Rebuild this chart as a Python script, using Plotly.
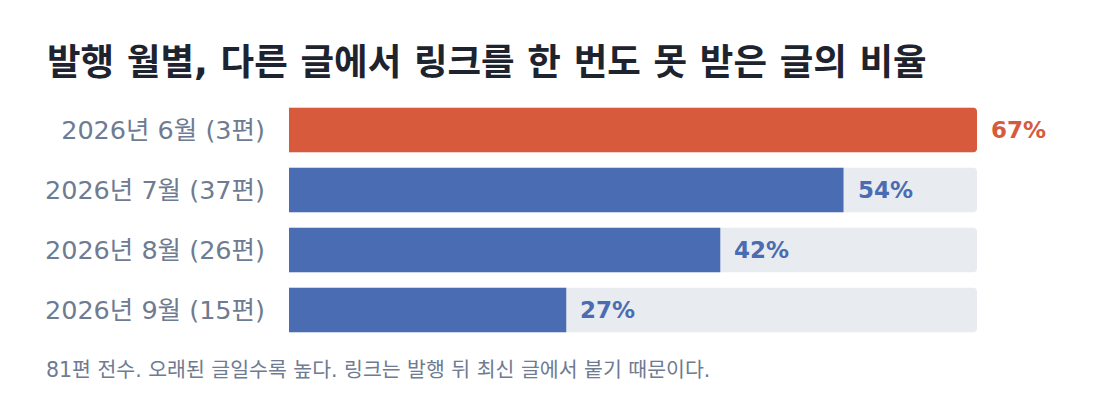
import plotly.graph_objects as go

# Chart data
months = ["2026년 6월 (3편)", "2026년 7월 (37편)", "2026년 8월 (26편)", "2026년 9월 (15편)"]
shares = [67, 54, 42, 27]
bar_colors = ["#d65a3b", "#4a6cb2", "#4a6cb2", "#4a6cb2"]

title = "발행 월별, 다른 글에서 링크를 한 번도 못 받은 글의 비율"
caption = "81편 전수. 오래된 글일수록 높다. 링크는 발행 뒤 최신 글에서 붙기 때문이다."

font_family = "DejaVu Sans, Noto Sans CJK KR, sans-serif"
track_max = max(shares)

# page body has an 8px margin, so the figure is a bit smaller than the window
W, H = 1084, 396
L, R, T, B = 281, 115, 92, 64
plot_w, plot_h = W - L - R, H - T - B

fig = go.Figure()

# grey tracks behind the bars
fig.add_trace(
    go.Bar(
        x=[track_max] * len(months),
        y=months,
        orientation="h",
        marker=dict(color="#e8ebf0", cornerradius=4, line=dict(width=0)),
        width=0.74,
        hoverinfo="skip",
        showlegend=False,
    )
)

fig.add_trace(
    go.Bar(
        x=shares,
        y=months,
        orientation="h",
        marker=dict(color=bar_colors, cornerradius=4, line=dict(width=0)),
        width=0.74,
        showlegend=False,
    )
)

# value labels next to each bar end
for month, share, color in zip(months, shares, bar_colors):
    fig.add_annotation(
        x=share,
        y=month,
        text=f"<b>{share}%</b>",
        showarrow=False,
        xanchor="left",
        xshift=12,
        font=dict(family=font_family, size=23, color=color),
    )

# caption under the chart
fig.add_annotation(
    x=(36 - L) / plot_w,
    y=-(362 - (T + plot_h)) / plot_h,
    xref="paper",
    yref="paper",
    text=caption,
    showarrow=False,
    xanchor="left",
    yanchor="middle",
    font=dict(family=font_family, size=20.5, color="#6e7b91"),
)

fig.update_layout(
    width=W,
    height=H,
    barmode="overlay",
    plot_bgcolor="white",
    paper_bgcolor="white",
    margin=dict(l=L, r=R, t=T, b=B),
    title=dict(
        text=f"<b>{title}</b>",
        x=39 / W,
        xanchor="left",
        y=1 - 54 / H,
        yanchor="middle",
        font=dict(family=font_family, size=36.5, color="#1e2330"),
    ),
    font=dict(family=font_family),
    xaxis=dict(range=[0, track_max], visible=False, fixedrange=True),
    yaxis=dict(
        autorange="reversed",
        showgrid=False,
        zeroline=False,
        showline=False,
        ticks="",
        ticklabelstandoff=23,
        tickfont=dict(family=font_family, size=25.5, color="#6e7b91"),
        fixedrange=True,
    ),
)

fig.write_html("out.html")
